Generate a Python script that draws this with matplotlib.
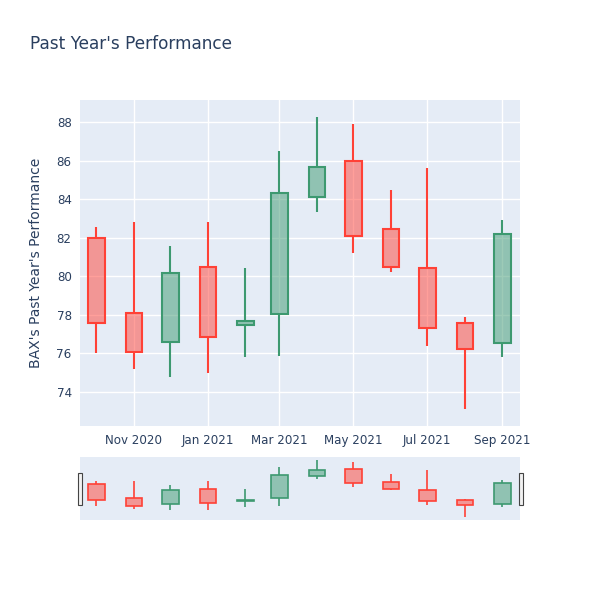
import pandas as pd
import matplotlib
matplotlib.use("Agg")
import matplotlib.pyplot as plt
import matplotlib.dates as mdates
from matplotlib.patches import Rectangle

# --- Monthly OHLC data ---
dates = pd.date_range("2020-10-01", periods=12, freq="MS")
opens = [82.0, 78.11, 76.6, 80.46, 77.46, 78.05, 84.1, 85.99, 82.44, 80.41, 77.56, 76.53]
highs = [82.57, 82.83, 81.59, 82.83, 80.45, 86.51, 88.28, 87.88, 84.47, 85.63, 77.91, 82.92]
lows = [76.0, 75.2, 74.8, 74.97, 75.83, 75.88, 83.35, 81.19, 80.24, 76.39, 73.1, 75.83]
closes = [77.56, 76.06, 80.19, 76.84, 77.67, 84.30, 85.65, 82.11, 80.5, 77.34, 76.22, 82.18]

tick_dates = pd.to_datetime(["2020-11-01", "2021-01-01", "2021-03-01",
                             "2021-05-01", "2021-07-01", "2021-09-01"])
tick_labels = ["Nov 2020", "Jan 2021", "Mar 2021", "May 2021", "Jul 2021", "Sep 2021"]
y_ticks = [74, 76, 78, 80, 82, 84, 86, 88]

# --- Style ---
INC = "#3D9970"
DEC = "#FF4136"
BG = "#E5ECF6"
TXT = "#2a3f5f"
x_lo, x_hi = pd.Timestamp("2020-09-17 12:00"), pd.Timestamp("2021-09-15 12:00")
y_lo, y_hi = 72.24, 89.14
body_w = 13.7  # days


def draw_candles(ax, lw):
    xs = mdates.date2num(dates)
    for x, o, h, l, c in zip(xs, opens, highs, lows, closes):
        col = INC if c >= o else DEC
        top, bot = max(o, c), min(o, c)
        ax.vlines(x, top, h, color=col, linewidth=lw, zorder=2)
        ax.vlines(x, l, bot, color=col, linewidth=lw, zorder=2)
        ax.add_patch(Rectangle((x - body_w / 2, bot), body_w, top - bot,
                               facecolor=col, alpha=0.5, edgecolor="none", zorder=3))
        ax.add_patch(Rectangle((x - body_w / 2, bot), body_w, top - bot,
                               facecolor="none", edgecolor=col, linewidth=lw, zorder=4))


fig = plt.figure(figsize=(6, 6), dpi=100)

# Main axes
ax = fig.add_axes([80 / 600, 174 / 600, 440 / 600, 326 / 600])
ax.set_facecolor(BG)
draw_candles(ax, 1.5)
ax.set_xlim(mdates.date2num(x_lo), mdates.date2num(x_hi))
ax.set_ylim(y_lo, y_hi)
ax.set_xticks(mdates.date2num(tick_dates))
ax.set_xticklabels(tick_labels)
ax.set_yticks(y_ticks)
ax.grid(color="white", linewidth=1)
ax.set_axisbelow(True)
for s in ax.spines.values():
    s.set_visible(False)
ax.tick_params(length=0, labelsize=8.6, colors=TXT, pad=6)
ax.set_ylabel("BAX's Past Year's Performance", fontsize=10, color=TXT, labelpad=10)

fig.text(30 / 600, 1 - 44 / 600, "Past Year's Performance", fontsize=12.2,
         color=TXT, va="center", ha="left")

# Range slider
sl = fig.add_axes([80 / 600, 80 / 600, 440 / 600, 63 / 600])
sl.set_facecolor(BG)
draw_candles(sl, 1.2)
sl.set_xlim(mdates.date2num(x_lo), mdates.date2num(x_hi))
sl.set_ylim(y_lo, y_hi)
sl.set_xticks([])
sl.set_yticks([])
for s in sl.spines.values():
    s.set_visible(False)

# slider handles
for px in (77.5, 518.5):
    fig.patches.append(Rectangle((px / 600, (600 - 505) / 600), 4 / 600, 32 / 600,
                                 transform=fig.transFigure, facecolor="#f2f2f2",
                                 edgecolor="#444444", linewidth=0.8, zorder=10))

fig.savefig("out.png", dpi=100)
